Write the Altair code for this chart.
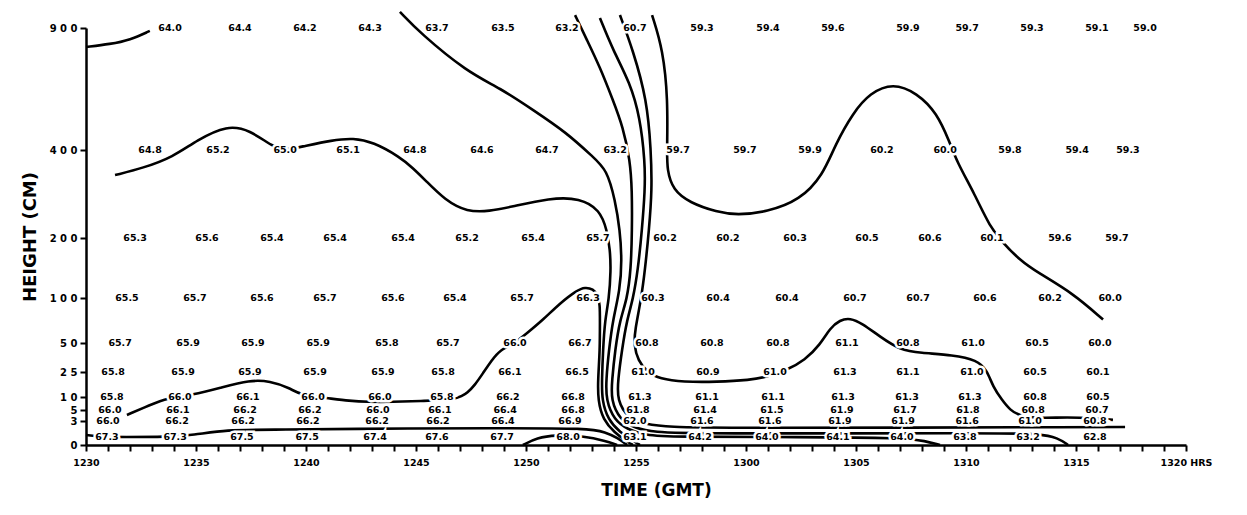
import altair as alt
import pandas as pd

# ---- axes -------------------------------------------------------------
# time is minutes after 12:30 GMT, height in cm
HEIGHT_LEVELS = [0, 3, 5, 10, 25, 50, 100, 200, 400, 900]
LEVEL_RANGE = [417, 393, 382, 369, 344, 315, 270, 210, 122, 0]   # piecewise scale range
TIME_TICKS = list(range(0, 51))

# ---- observed temperatures (one list per measuring height) -------------
T_900 = [3.82, 7.0, 9.95, 12.91, 15.95, 18.95, 21.86, 24.95, 28.0, 31.0, 33.95, 37.36, 40.05, 43.0, 45.95, 48.14]
V_900 = [64.0, 64.4, 64.2, 64.3, 63.7, 63.5, 63.2, 60.7, 59.3, 59.4, 59.6, 59.9, 59.7, 59.3, 59.1, 59.0]

T_400 = [2.91, 6.0, 9.05, 11.91, 14.95, 18.0, 20.95, 24.05, 26.91, 29.95, 32.91, 36.18, 39.05, 42.0, 45.05, 47.36]
V_400 = [64.8, 65.2, 65.0, 65.1, 64.8, 64.6, 64.7, 63.2, 59.7, 59.7, 59.9, 60.2, 60.0, 59.8, 59.4, 59.3]

T_200 = [2.23, 5.5, 8.45, 11.32, 14.41, 17.32, 20.32, 23.27, 26.32, 29.18, 32.23, 35.5, 38.36, 41.18, 44.27, 46.86]
V_200 = [65.3, 65.6, 65.4, 65.4, 65.4, 65.2, 65.4, 65.7, 60.2, 60.2, 60.3, 60.5, 60.6, 60.1, 59.6, 59.7]

T_100 = [1.86, 4.95, 8.0, 10.86, 13.95, 16.77, 19.82, 22.82, 25.77, 28.73, 31.86, 34.95, 37.82, 40.86, 43.82, 46.55]
V_100 = [65.5, 65.7, 65.6, 65.7, 65.6, 65.4, 65.7, 66.3, 60.3, 60.4, 60.4, 60.7, 60.7, 60.6, 60.2, 60.0]

T_50 = [1.55, 4.64, 7.59, 10.55, 13.68, 16.45, 19.5, 22.45, 25.5, 28.45, 31.45, 34.59, 37.36, 40.32, 43.23, 46.09]
V_50 = [65.7, 65.9, 65.9, 65.9, 65.8, 65.7, 66.0, 66.7, 60.8, 60.8, 60.8, 61.1, 60.8, 61.0, 60.5, 60.0]

T_25 = [1.23, 4.41, 7.45, 10.41, 13.5, 16.23, 19.27, 22.32, 25.32, 28.27, 31.32, 34.5, 37.36, 40.27, 43.14, 46.0]
V_25 = [65.8, 65.9, 65.9, 65.9, 65.9, 65.8, 66.1, 66.5, 61.0, 60.9, 61.0, 61.3, 61.1, 61.0, 60.5, 60.1]

T_10 = [1.18, 4.27, 7.36, 10.32, 13.36, 16.18, 19.18, 22.14, 25.18, 28.23, 31.23, 34.41, 37.32, 40.18, 43.14, 46.0]
V_10 = [65.8, 66.0, 66.1, 66.0, 66.0, 65.8, 66.2, 66.8, 61.3, 61.1, 61.1, 61.3, 61.3, 61.3, 60.8, 60.5]

T_5 = [1.09, 4.18, 7.23, 10.18, 13.27, 16.09, 19.05, 22.14, 25.09, 28.14, 31.18, 34.36, 37.23, 40.09, 43.05, 45.95]
V_5 = [66.0, 66.1, 66.2, 66.2, 66.0, 66.1, 66.4, 66.8, 61.8, 61.4, 61.5, 61.9, 61.7, 61.8, 60.8, 60.7]

T_3 = [1.0, 4.14, 7.14, 10.09, 13.23, 16.0, 18.95, 22.0, 24.95, 28.0, 31.09, 34.27, 37.14, 40.05, 42.91, 45.86]
V_3 = [66.0, 66.2, 66.2, 66.2, 66.2, 66.2, 66.4, 66.9, 62.0, 61.6, 61.6, 61.9, 61.9, 61.6, 61.0, 60.8]

T_1 = [0.95, 4.05, 7.09, 10.05, 13.14, 15.95, 18.91, 21.91, 24.95, 27.91, 30.95, 34.18, 37.09, 39.95, 42.82, 45.86]
V_1 = [67.3, 67.3, 67.5, 67.5, 67.4, 67.6, 67.7, 68.0, 63.1, 64.2, 64.0, 64.1, 64.0, 63.8, 63.2, 62.8]

ROWS = [(900, T_900, V_900), (400, T_400, V_400), (200, T_200, V_200),
        (100, T_100, V_100), (50, T_50, V_50), (25, T_25, V_25),
        (10, T_10, V_10), (5, T_5, V_5), (3, T_3, V_3), (1, T_1, V_1)]

# ---- isotherms: (minute, height cm) --------------------------------------
ISO_TOPLEFT = [(0.0, 822), (1.1, 834), (2.0, 851), (2.9, 888)]
ISO_65 = [(1.32, 343), (2.59, 359), (3.95, 384), (5.05, 441), (6.41, 502), (7.45, 482), (8.5, 412),
          (9.05, 400), (9.73, 412), (11.23, 441), (12.14, 449), (13.05, 433), (14.27, 384), (14.86, 359),
          (15.41, 332), (16.32, 286), (17.32, 259), (18.36, 261), (19.27, 270), (21.09, 291), (22.45, 291),
          (23.36, 264), (23.68, 218), (23.82, 180), (23.86, 147), (23.77, 98), (23.59, 76), (23.5, 44),
          (23.45, 20), (23.45, 8.8), (23.73, 3.2), (24.27, 1.6), (24.82, 0.6), (25.18, 0)]
ISO_64 = [(14.27, 966), (15.18, 880), (17.32, 720), (18.82, 654), (20.32, 564), (21.86, 470), (23.05, 384),
          (23.68, 355), (24.05, 286), (24.27, 218), (24.36, 163), (24.27, 113), (23.95, 76), (23.77, 44),
          (23.64, 20), (23.64, 8.8), (24.0, 3.2), (24.64, 1.9), (25.41, 1.25), (26.55, 1.0), (32.45, 1.0),
          (37.23, 0.9), (38.14, 0.5), (38.82, 0)]
ISO_63 = [(22.23, 953), (22.77, 851), (23.36, 740), (23.95, 605), (24.41, 494), (24.73, 377), (24.82, 309),
          (24.82, 218), (24.77, 147), (24.59, 98), (24.27, 76), (24.05, 44), (23.91, 20), (23.86, 8.8),
          (24.27, 3.2), (24.95, 2.1), (25.86, 1.6), (27.45, 1.4), (41.55, 1.5), (43.36, 1.4), (44.18, 0.9),
          (44.64, 0)]
ISO_62 = [(23.36, 941), (23.95, 810), (24.73, 675), (25.18, 535), (25.41, 373), (25.41, 309), (25.27, 218),
          (25.09, 147), (24.86, 98), (24.59, 76), (24.36, 44), (24.18, 20), (24.14, 8.8), (24.64, 3.5),
          (25.41, 2.6), (26.55, 2.25), (28.82, 2.1), (47.23, 2.25)]
ISO_61 = [(24.27, 953), (24.86, 810), (25.5, 605), (25.68, 400), (25.73, 309), (25.59, 218), (25.41, 147),
          (25.23, 98), (24.95, 64), (24.91, 48), (25.09, 35), (25.5, 25), (26.09, 20.8), (27.14, 19),
          (28.68, 19), (30.18, 20.2), (30.95, 22), (31.86, 26.7), (32.68, 35.3), (33.36, 48.3), (33.82, 66.7),
          (34.27, 75.6), (34.73, 77.8), (35.27, 72), (36.09, 57), (37.0, 44), (37.91, 41.4), (39.41, 39.7),
          (40.5, 35.3), (40.95, 26.7), (41.23, 16), (41.64, 8.8), (42.0, 5), (42.45, 3.9), (43.36, 3.5),
          (44.59, 3.7), (45.86, 3.5), (46.68, 3.2)]
ISO_60 = [(25.73, 953), (26.23, 810), (26.45, 605), (26.41, 400), (26.41, 355), (26.68, 309), (27.45, 280),
          (28.68, 259), (29.59, 252), (30.95, 259), (32.45, 286), (33.5, 343), (34.05, 421), (34.86, 552),
          (35.64, 634), (36.68, 675), (37.77, 634), (38.68, 552), (39.27, 429), (39.59, 373), (40.41, 298),
          (41.09, 225), (41.68, 192), (42.45, 163), (43.23, 143), (44.86, 108), (46.23, 76)]
ISO_66 = [(1.86, 4.1), (2.91, 6.9), (3.68, 9.6), (4.86, 11.2), (6.09, 15.4), (7.45, 20.2), (8.36, 19.6),
          (9.27, 15.4), (9.73, 11.2), (10.95, 9.6), (12.0, 8.5), (12.77, 8.1), (13.95, 8.1), (15.18, 8.5),
          (16.68, 8.8), (17.09, 10.6), (17.32, 12.4), (17.68, 17.2), (18.05, 24.4), (18.45, 35.3), (18.82, 44),
          (19.5, 50), (20.05, 61), (20.77, 75.6), (21.55, 94.4), (22.32, 113), (22.68, 118), (23.05, 115),
          (23.27, 105), (23.36, 92), (23.36, 75.6), (23.36, 44), (23.27, 20.2), (23.27, 8.8), (23.5, 3.2),
          (24.05, 1.5), (24.5, 0.6), (24.86, 0)]
ISO_67 = [(0.0, 1.25), (0.64, 1.0), (1.68, 1.0), (3.68, 1.0), (4.86, 1.25), (6.41, 1.9), (8.23, 1.9),
          (15.18, 2.1), (18.82, 2.1), (22.91, 2.1), (23.59, 1.6), (24.18, 0.9), (24.59, 0)]
ISO_68 = [(19.86, 0), (20.5, 0.9), (21.32, 1.25), (22.68, 1.1), (23.59, 0.5), (24.14, 0)]

CONTOURS = {"top": ISO_TOPLEFT, "65": ISO_65, "64": ISO_64, "63": ISO_63, "62": ISO_62,
            "61": ISO_61, "60": ISO_60, "66": ISO_66, "67": ISO_67, "68": ISO_68}

# ---- tables ------------------------------------------------------------
label_df = pd.DataFrame([{"t": t, "h": h, "label": f"{v:.1f}"}
                         for h, ts, vs in ROWS for t, v in zip(ts, vs)])
line_df = pd.DataFrame([{"t": t, "h": h, "line": name, "i": i}
                        for name, pts in CONTOURS.items() for i, (t, h) in enumerate(pts)])

FONT = "DejaVu Sans"

x_label_expr = ("datum.value % 5 != 0 ? '' : (toString(12 + floor((30 + datum.value) / 60)) + "
                "(((30 + datum.value) % 60) < 10 ? '0' : '') + toString((30 + datum.value) % 60) + "
                "(datum.value == 50 ? ' HRS' : ''))")

x_enc = alt.X("t:Q",
              scale=alt.Scale(domain=[0, 50], nice=False, zero=False),
              axis=alt.Axis(values=TIME_TICKS, labelExpr=x_label_expr, tickSize=6, tickWidth=2,
                            labelFont=FONT, labelFontSize=9.5, labelFontWeight="bold", labelPadding=6,
                            labelOverlap=False, labelFlush=False, grid=False,
                            titleFont=FONT, titleFontSize=17, titleFontWeight="bold",
                            titlePadding=16, titleX=570),
              title="TIME (GMT)")

y_enc = alt.Y("h:Q",
              scale=alt.Scale(domain=HEIGHT_LEVELS, range=LEVEL_RANGE, nice=False, zero=False),
              axis=alt.Axis(values=HEIGHT_LEVELS, format="d",
                            labelExpr="join(split(datum.label, ''), ' ')",
                            tickSize=6, tickWidth=2, labelFont=FONT, labelFontSize=10,
                            labelFontWeight="bold", labelPadding=3, labelOverlap=False,
                            labelFlush=False, grid=False,
                            titleFont=FONT, titleFontSize=18, titleFontWeight="bold",
                            titlePadding=10),
              title="HEIGHT (CM)")

lines = alt.Chart(line_df).mark_line(color="black", strokeWidth=2.6, interpolate="basis").encode(
    x=x_enc, y=y_enc, detail="line:N", order="i:Q")

halo = alt.Chart(label_df).mark_text(font=FONT, fontSize=9.5, fontWeight="bold",
                                     fill="white", stroke="white", strokeWidth=5).encode(
    x=x_enc, y=y_enc, text="label:N")

text = alt.Chart(label_df).mark_text(font=FONT, fontSize=9.5, fontWeight="bold", color="black").encode(
    x=x_enc, y=y_enc, text="label:N")

chart = alt.layer(lines, halo, text).properties(
    width=1100, height=417,
    autosize=alt.AutoSizeParams(type="none"),
    padding={"left": 78, "top": 20, "right": 53, "bottom": 62},
).configure_view(stroke=None).configure_axis(
    domainColor="black", domainWidth=2.5, tickColor="black",
    labelColor="black", titleColor="black")

chart.save("out.html", embed_options={"renderer": "svg", "actions": False})
